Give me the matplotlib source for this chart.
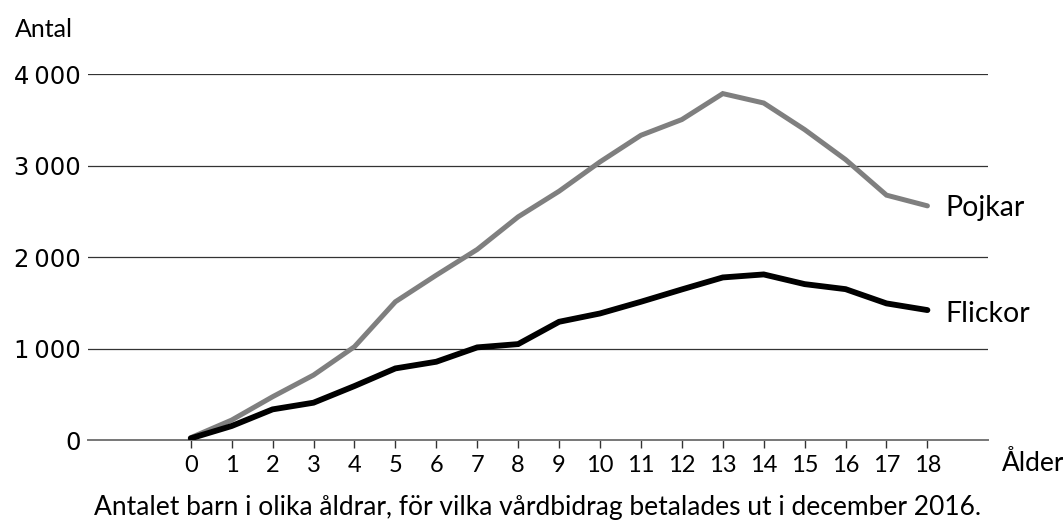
import matplotlib
matplotlib.use("Agg")
import matplotlib.pyplot as plt

ages = list(range(0, 19))
pojkar = [25, 218, 473, 710, 1020, 1512, 1803, 2084, 2441, 2721,
          3042, 3333, 3505, 3789, 3686, 3395, 3067, 2678, 2561]
flickor = [18, 153, 335, 408, 590, 783, 856, 1013, 1049, 1293,
           1384, 1512, 1647, 1778, 1811, 1705, 1650, 1494, 1421]
yticks = [0, 1000, 2000, 3000, 4000]
ytick_labels = ["0", "1\u2009000", "2\u2009000", "3\u2009000", "4\u2009000"]

FONT = ["Lato", "DejaVu Sans"]
plt.rcParams["font.family"] = FONT

fig = plt.figure(figsize=(10.63, 5.20), dpi=100)
ax = fig.add_axes([88 / 1063, 80 / 520, 900 / 1063, (440 - 74.3) / 520])

for y in yticks[1:]:
    ax.axhline(y, color="#333333", lw=0.9, zorder=1)

ax.plot(ages, pojkar, color="#7f7f7f", lw=3.6, solid_capstyle="round",
        solid_joinstyle="miter", zorder=3)
ax.plot(ages, flickor, color="#000000", lw=4.2, solid_capstyle="round",
        solid_joinstyle="miter", zorder=4)

ax.annotate("Pojkar", xy=(ages[-1], pojkar[-1]), xytext=(13, -7),
            textcoords="offset points", ha="left", va="baseline",
            fontsize=20.5, color="#000000")
ax.annotate("Flickor", xy=(ages[-1], flickor[-1]), xytext=(13, -8.5),
            textcoords="offset points", ha="left", va="baseline",
            fontsize=20.5, color="#000000")

ax.set_xlim(-2.51, 19.48)
ax.set_ylim(0, 4000)

ax.set_xticks(ages)
ax.set_xticklabels([str(a) for a in ages], fontsize=17)
ax.set_yticks(yticks)
ax.set_yticklabels(ytick_labels, fontsize=17.5, family=["DejaVu Sans"])

ax.tick_params(axis="x", direction="out", length=6, width=1, color="#333333",
               pad=5)
ax.tick_params(axis="y", length=0, pad=5)

for s in ["top", "right", "left"]:
    ax.spines[s].set_visible(False)
ax.spines["bottom"].set_color("#777777")
ax.spines["bottom"].set_linewidth(1.4)

fig.text(15 / 1063, 1 - 37 / 520, "Antal", fontsize=18, ha="left",
         va="baseline")
fig.text(1002 / 1063, 1 - 471 / 520, "Ålder", fontsize=19, ha="left",
         va="baseline")
fig.text(538 / 1063, 1 - 515 / 520,
         "Antalet barn i olika åldrar, för vilka vårdbidrag betalades ut i december 2016.",
         fontsize=19, ha="center", va="baseline")

fig.savefig("out.png", dpi=100)
